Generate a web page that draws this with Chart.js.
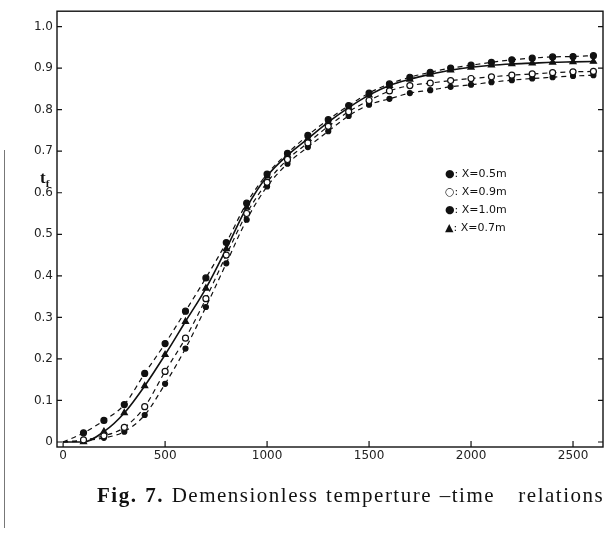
<!DOCTYPE html>
<html>
<head>
<meta charset="utf-8">
<script src="https://cdn.jsdelivr.net/npm/chart.js@4"></script>
<style>
  html, body { margin: 0; padding: 0; background: #fff; }
  #wrap { position: relative; width: 609px; height: 535px; overflow: hidden; }
  #c { position: absolute; left: 0; top: 0; }
  .legend { position: absolute; left: 445px; top: 165px; font: 11px "DejaVu Sans", sans-serif; color: #111; line-height: 18px; }
  .ylab { position: absolute; left: 40px; top: 168px; font: bold 17px "Liberation Serif", serif; color: #111; }
  .ylab sub { font-size: 11px; }
  .caption { position: absolute; left: 97px; top: 483px; font: 21px "Liberation Serif", serif; color: #111; letter-spacing: 1.5px; word-spacing: 1px; white-space: pre; }
  .edge { position: absolute; left: 4px; top: 150px; width: 1px; height: 378px; background: #777; }
</style>
</head>
<body>
<div id="wrap">
  <canvas id="c" width="609" height="535"></canvas>
  <div class="edge"></div>
  <div class="ylab">t<sub>f</sub></div>
  <div class="legend">
    <div>&#9679;: X=0.5m</div>
    <div>&#9675;: X=0.9m</div>
    <div>&#9679;: X=1.0m</div>
    <div>&#9650;: X=0.7m</div>
  </div>
  <div class="caption"><b>Fig. 7.</b> Demensionless temperture –time   relations</div>
</div>
<script>
  // time (s) and dimensionless temperature
  const times = [0, 100, 200, 300, 400, 500, 600, 700, 800, 900, 1000, 1100, 1200, 1300,
                 1400, 1500, 1600, 1700, 1800, 1900, 2000, 2100, 2200, 2300, 2400, 2500, 2600];
  const x05 = [0, 0.022, 0.052, 0.09, 0.165, 0.237, 0.315, 0.395, 0.48, 0.575, 0.645, 0.695, 0.738, 0.776,
               0.81, 0.84, 0.862, 0.878, 0.89, 0.9, 0.907, 0.914, 0.92, 0.924, 0.927, 0.928, 0.93];
  const x07 = [0, 0, 0.025, 0.07, 0.135, 0.21, 0.29, 0.37, 0.465, 0.565, 0.64, 0.69, 0.73, 0.77,
               0.805, 0.835, 0.858, 0.873, 0.885, 0.895, 0.902, 0.907, 0.91, 0.912, 0.914, 0.915, 0.916];
  const x09 = [0, 0.005, 0.015, 0.035, 0.085, 0.17, 0.25, 0.345, 0.45, 0.55, 0.625, 0.68, 0.72, 0.76,
               0.795, 0.822, 0.845, 0.858, 0.864, 0.87, 0.875, 0.879, 0.883, 0.886, 0.889, 0.891, 0.892];
  const x10 = [0, 0.003, 0.01, 0.025, 0.065, 0.14, 0.225, 0.325, 0.43, 0.535, 0.615, 0.67, 0.71, 0.748,
               0.785, 0.812, 0.826, 0.84, 0.847, 0.855, 0.86, 0.866, 0.871, 0.875, 0.878, 0.881, 0.883];
  const xTicks = [0, 500, 1000, 1500, 2000, 2500];
  const yTicks = [0, 0.1, 0.2, 0.3, 0.4, 0.5, 0.6, 0.7, 0.8, 0.9, 1.0];

  const pts = arr => arr.map((v, i) => ({ x: times[i], y: v }));

  function series(label, arr, style, fill, radius, dash) {
    return {
      label: label,
      data: pts(arr),
      borderColor: '#111',
      borderWidth: dash ? 1.2 : 1.6,
      borderDash: dash ? [5, 4] : [],
      pointStyle: style,
      // no marker at the origin
      pointRadius: ctx => ctx.dataIndex === 0 ? 0 : radius,
      pointBackgroundColor: fill,
      pointBorderColor: '#111',
      pointBorderWidth: 1.2,
      tension: 0.4,
      cubicInterpolationMode: 'monotone',
      fill: false
    };
  }

  // frame and inward tick marks
  const frame = {
    id: 'frame',
    afterDraw(chart) {
      const { ctx, chartArea: a, scales } = chart;
      ctx.save();
      ctx.strokeStyle = '#111';
      ctx.lineWidth = 1.4;
      ctx.strokeRect(a.left, a.top, a.right - a.left, a.bottom - a.top);
      ctx.lineWidth = 1.2;
      ctx.beginPath();
      xTicks.forEach(t => {
        const px = scales.x.getPixelForValue(t);
        ctx.moveTo(px, a.bottom);
        ctx.lineTo(px, a.bottom - 6);
      });
      yTicks.forEach(t => {
        const py = scales.y.getPixelForValue(t);
        ctx.moveTo(a.left, py);
        ctx.lineTo(a.left + 5, py);
        ctx.moveTo(a.right, py);
        ctx.lineTo(a.right - 5, py);
      });
      ctx.stroke();
      ctx.restore();
    }
  };

  new Chart(document.getElementById('c'), {
    type: 'line',
    data: {
      datasets: [
        series('X=0.5m', x05, 'circle', '#111', 3, true),
        series('X=0.9m', x09, 'circle', '#fff', 3, true),
        series('X=1.0m', x10, 'circle', '#111', 2.5, true),
        series('X=0.7m', x07, 'triangle', '#111', 3.5, false)
      ]
    },
    options: {
      responsive: false,
      animation: false,
      layout: { padding: { top: 7, right: 6, left: 0, bottom: 0 } },
      plugins: { legend: { display: false }, tooltip: { enabled: false } },
      scales: {
        x: {
          type: 'linear',
          min: -30,
          max: 2647,
          afterBuildTicks: s => { s.ticks = xTicks.map(v => ({ value: v })); },
          afterFit: s => { s.height = 88; },
          grid: { display: false, drawTicks: false },
          border: { display: false },
          ticks: { color: '#222', font: { family: 'DejaVu Sans', size: 12 }, padding: 2, maxRotation: 0,
                   callback: v => String(v) }
        },
        y: {
          min: -0.012,
          max: 1.037,
          afterBuildTicks: s => { s.ticks = yTicks.map(v => ({ value: v })); },
          afterFit: s => { s.width = 57; },
          grid: { display: false, drawTicks: false },
          border: { display: false },
          ticks: {
            color: '#222',
            font: { family: 'DejaVu Sans', size: 12 },
            padding: 4,
            callback: v => v === 0 ? '0' : v.toFixed(1)
          }
        }
      }
    },
    plugins: [frame]
  });
</script>
</body>
</html>
